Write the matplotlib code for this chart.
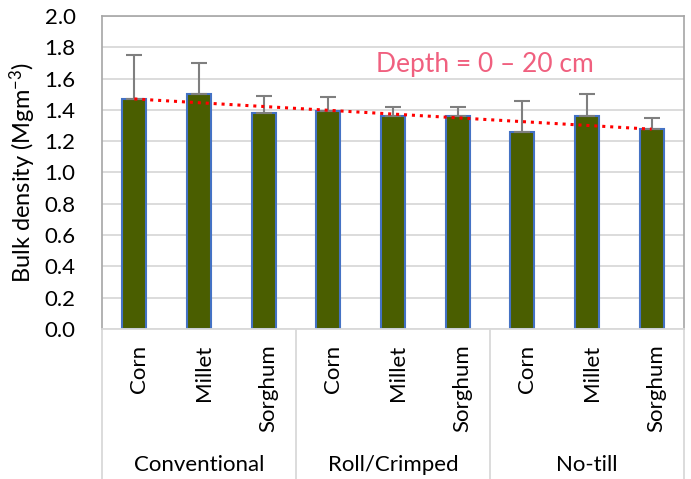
import numpy as np
import matplotlib
matplotlib.use("Agg")
import matplotlib.pyplot as plt
from matplotlib.lines import Line2D

plt.rcParams["font.family"] = ["Lato", "DejaVu Sans"]
plt.rcParams["mathtext.fontset"] = "custom"
plt.rcParams["mathtext.rm"] = "Lato"
plt.rcParams["mathtext.default"] = "regular"

# data
tillage = ["Conventional", "Roll/Crimped", "No-till"]
crops = ["Corn", "Millet", "Sorghum"]
bulk_density = [1.47, 1.50, 1.38, 1.39, 1.36, 1.36, 1.26, 1.36, 1.28]
error_up = [0.28, 0.20, 0.11, 0.09, 0.06, 0.06, 0.20, 0.14, 0.07]

labels = crops * len(tillage)
x = np.arange(len(bulk_density))

fig = plt.figure(figsize=(6.91, 4.79), dpi=100)
ax = fig.add_axes([0.1476, 0.3132, 0.8423, 0.6534])

ax.set_axisbelow(True)
ax.yaxis.grid(True, color="#d9d9d9", linewidth=1.3)

ax.bar(x, bulk_density, width=0.37, color="#4a5e00",
       edgecolor="#4472c4", linewidth=1.5, zorder=2)
ax.errorbar(x, bulk_density, yerr=[np.zeros(len(x)), error_up],
            fmt="none", ecolor="#7f7f7f", elinewidth=1.5,
            capsize=5.5, capthick=1.5, zorder=3)

# linear trendline
coef = np.polyfit(x, bulk_density, 1)
ax.plot(x, np.polyval(coef, x), linestyle=(0, (1, 1.6)), color="#ff0000",
        linewidth=2.2, zorder=4)

ax.set_xlim(-0.5, len(x) - 0.5)
ax.set_ylim(0, 2.0)
ax.set_yticks(np.arange(0, 2.01, 0.2))
ax.set_yticklabels([f"{v:.1f}" for v in np.arange(0, 2.01, 0.2)])
ax.tick_params(axis="y", length=0, pad=19, labelsize=16)
ax.set_xticks([])

for side in ["top", "left", "right"]:
    ax.spines[side].set_color("#a6a6a6")
    ax.spines[side].set_linewidth(1.2)
ax.spines["bottom"].set_color("#d9d9d9")
ax.spines["bottom"].set_linewidth(1.3)

ax.set_ylabel("Bulk density (Mgm$^{-3}$)", fontsize=17, labelpad=5)

ax.text(5.42, 1.69, "Depth = 0 \u2013 20 cm", color="#f0607f", fontsize=19,
        ha="center", va="center")

# two level category axis
trans = ax.get_xaxis_transform()
for i, lab in enumerate(labels):
    ax.text(x[i] + 0.07, -0.05, lab, transform=trans, rotation=90,
            ha="center", va="top", fontsize=16)
for g, name in enumerate(tillage):
    ax.text(g * 3 + 1, -0.435, name, transform=trans, ha="center",
            va="center", fontsize=16)
for xs in [-0.5, 2.5, 5.5, 8.5]:
    ax.add_line(Line2D([xs, xs], [0, -0.5], transform=trans, color="#d9d9d9",
                       linewidth=1.3, clip_on=False))

fig.savefig("out.png", dpi=100)
